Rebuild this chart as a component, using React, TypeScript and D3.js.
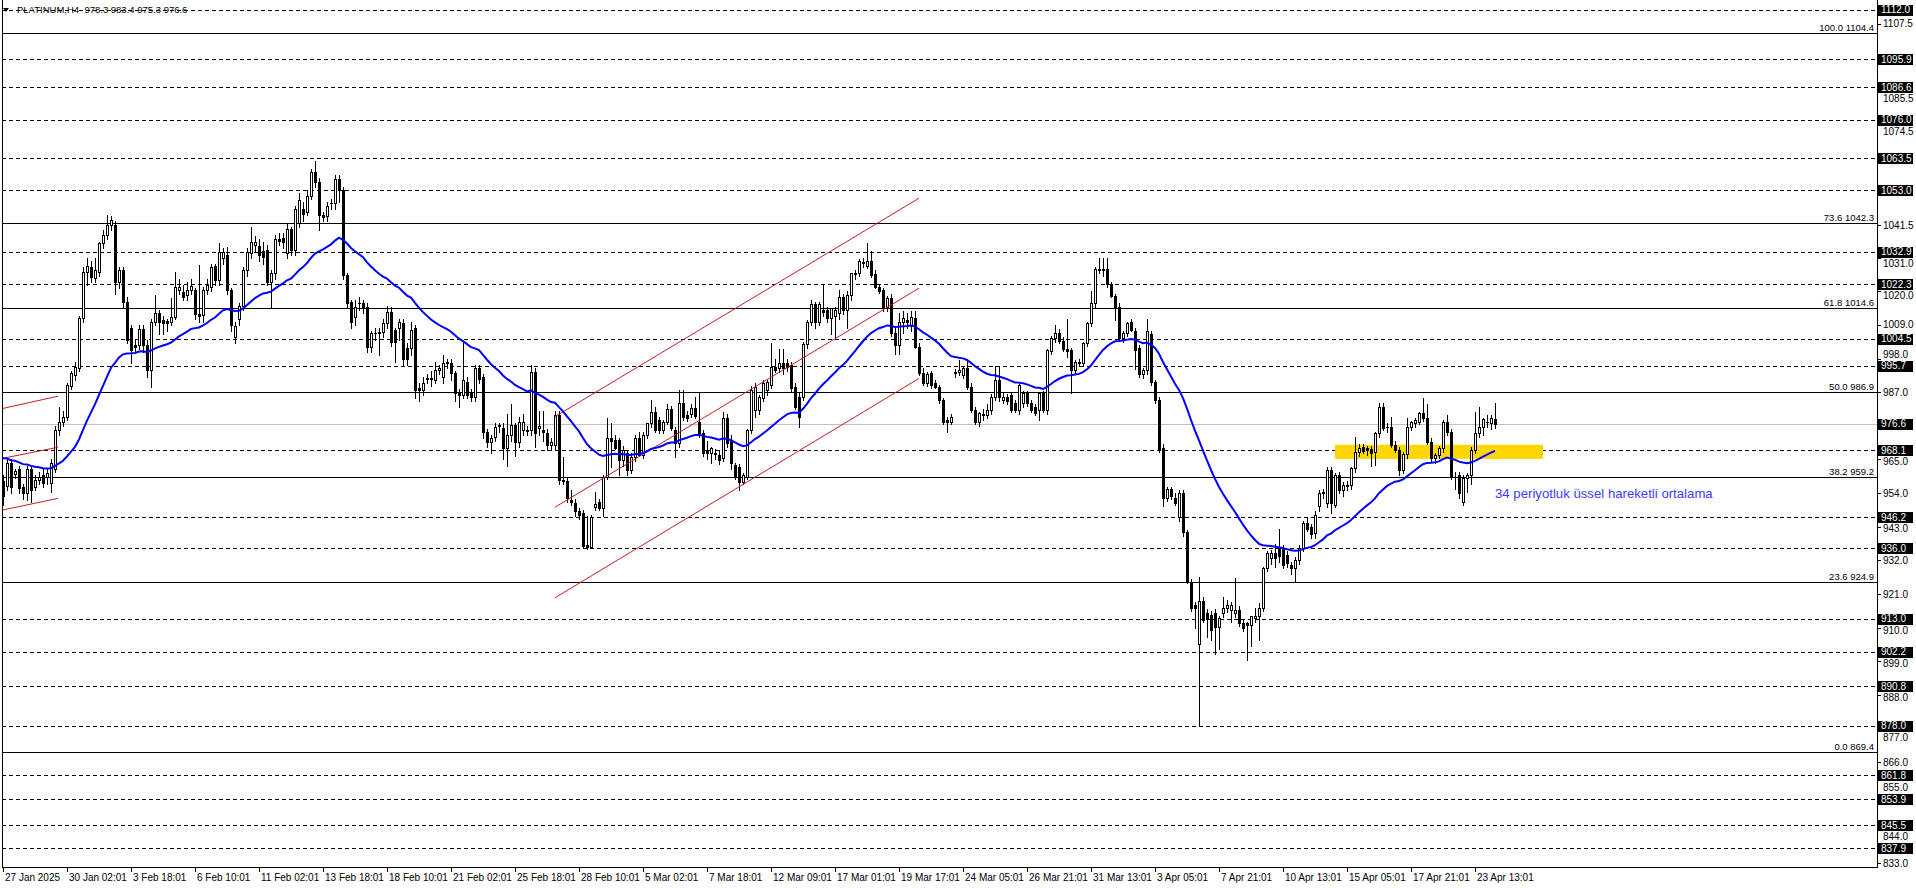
import React from "react";
import * as d3 from "d3";

// ---------- DATA ----------
const headerText = "PLATINUM,H4  978.3 983.4 975.3 976.6";

const timeLabels = [
  "27 Jan 2025", "30 Jan 02:01", "3 Feb 18:01", "6 Feb 10:01", "11 Feb 02:01", "13 Feb 18:01",
  "18 Feb 10:01", "21 Feb 02:01", "25 Feb 18:01", "28 Feb 10:01", "5 Mar 02:01", "7 Mar 18:01",
  "12 Mar 09:01", "17 Mar 01:01", "19 Mar 17:01", "24 Mar 05:01", "26 Mar 21:01", "31 Mar 13:01",
  "3 Apr 05:01", "7 Apr 21:01", "10 Apr 13:01", "15 Apr 05:01", "17 Apr 21:01", "23 Apr 13:01",
];
const barsPerTimeLabel = 16;

const priceTicks = [
  1107.5, 1096.5, 1085.5, 1074.5, 1063.5, 1052.5, 1041.5, 1031.0, 1020.0, 1009.0, 998.0, 987.0,
  976.0, 965.0, 954.0, 943.0, 932.0, 921.0, 910.0, 899.0, 888.0, 877.0, 866.0, 855.0, 844.0, 833.0,
];

const dashedLevels = [
  1112.0, 1095.9, 1086.6, 1076.0, 1063.5, 1053.0, 1032.9, 1022.3, 1004.5, 995.7, 968.1, 946.2,
  936.0, 913.0, 902.2, 890.8, 878.0, 861.8, 853.9, 845.5, 837.9,
];
const currentPrice = 976.6;

const fiboRatios = ["100.0", "73.6", "61.8", "50.0", "38.2", "23.6", "0.0"];
const fiboPrices = [1104.4, 1042.3, 1014.6, 986.9, 959.2, 924.9, 869.4];

// [bar0, price0, bar1, price1]
const leftChannel = [
  [0, 981.7, 13.8, 985.7],
  [0, 965.4, 13.8, 969.0],
  [0, 948.5, 13.8, 952.3],
];
const mainChannel = [
  [138, 979.0, 229, 1050.4],
  [138, 949.4, 229, 1021.0],
  [138, 919.8, 229, 991.5],
];

const zoneBars = [333, 385];
const zonePrices = [969.8, 965.2];

const emaPeriod = 34;
const emaSeed = 965.4;
const emaLabel = "34 periyotluk üssel hareketli ortalama";
const emaLabelAnchor = [373, 952.4];

// OHLC candles [open, high, low, close]
const candlesJanFeb: number[][] = [
  [958, 960, 950, 953], [956.2, 965, 955, 963.7], [964, 965, 954, 956], [960.1, 962, 959, 961.2],
  [962, 963, 954, 955.6], [956, 957, 952, 954], [954, 963, 951.8, 962], [962, 963, 951, 955],
  [956, 960, 955, 958.3], [958.3, 961, 957, 959.4], [960, 962, 956, 957.2], [959.4, 962, 957, 960.5],
  [957.2, 965, 954.5, 963.7], [962, 976, 961, 974.6], [974.6, 982, 973, 977.4], [977.3, 981, 976, 979],
  [979, 990, 978, 989.3], [989, 994, 988, 993.2], [992.6, 997, 991, 995.3], [994.8, 1012, 994, 1011.1],
  [1011.1, 1028, 1010, 1026.4], [1026.4, 1030.8, 1022, 1028.2], [1028, 1030, 1023, 1024.8], [1024.2, 1031, 1023, 1026.9],
  [1026.4, 1036, 1025, 1035.6], [1035.6, 1040, 1034, 1038.4], [1038.4, 1044.9, 1037, 1041.6], [1041.6, 1044.5, 1040, 1043.3],
  [1041.6, 1043, 1019, 1023.1], [1023.1, 1028, 1021, 1026.9], [1026.9, 1028, 1015, 1016.6], [1016.6, 1018, 1003, 1004.1],
  [1007.9, 1009, 996.6, 1000.8], [1002.4, 1004, 1000, 1001.9], [1002.4, 1009, 1001, 1007.6], [1007.6, 1009, 1000, 1002.4],
  [1002.4, 1004, 992, 994.3], [994.3, 1011, 988.8, 1010], [1010, 1018.8, 1009, 1012.8], [1012.8, 1014, 1006, 1010],
  [1010.6, 1012, 1006, 1009.5], [1010.2, 1011, 1007, 1009.7], [1010, 1017.7, 1009, 1011.7], [1011.7, 1026.4, 1011, 1021.5],
  [1020.4, 1024, 1019, 1021.5], [1019.8, 1022, 1017, 1018.2], [1018.8, 1023, 1017, 1020.4], [1020.4, 1024, 1019, 1021.8],
  [1020.4, 1021, 1011, 1012.6], [1012.6, 1028.6, 1010, 1011.9], [1012.2, 1021.5, 1010, 1020.4], [1020.4, 1024, 1019, 1022],
  [1021.5, 1029, 1020, 1028], [1028.2, 1029, 1022, 1023.7], [1023.7, 1035.6, 1022, 1032.7], [1030.7, 1034, 1029, 1032.7],
  [1031.8, 1034.5, 1019, 1020.4], [1020.4, 1021, 1007, 1009], [1005, 1010, 1003, 1008.5], [1010.9, 1016, 1009, 1015.3],
  [1015.3, 1028, 1014, 1026.9], [1026.9, 1034, 1025, 1032.9], [1032.4, 1040.9, 1031, 1036.2], [1035.1, 1038, 1033, 1036],
  [1034.8, 1037, 1030, 1031.8], [1033, 1036, 1029, 1031.3], [1033.5, 1035, 1022, 1023.1], [1023.1, 1027, 1015, 1025.8],
  [1025.8, 1038.5, 1024, 1037.1], [1037, 1039, 1035, 1036.4], [1037.3, 1039, 1034, 1036.2], [1032.4, 1042, 1031, 1040.2],
  [1040.2, 1041, 1032, 1033.5], [1033.5, 1048, 1032, 1046.8], [1042.2, 1052, 1041, 1049.8], [1046.8, 1049, 1043, 1045.2],
  [1046, 1053, 1045, 1051.1], [1051.1, 1060, 1050, 1058.9], [1058.9, 1062.7, 1054, 1055.8], [1055.8, 1057, 1040, 1044.9],
  [1044.9, 1046, 1043, 1044.4], [1044.6, 1049, 1043, 1047.9], [1048.7, 1050, 1047, 1048.9], [1048.9, 1058, 1047, 1056.6],
  [1056.6, 1058, 1049, 1053.1], [1053.1, 1054, 1024, 1025.3], [1025.3, 1026, 1015, 1016], [1016.6, 1017, 1008, 1010],
  [1011.7, 1017, 1009, 1015], [1016, 1018, 1014, 1016.1], [1016.3, 1017, 1013, 1015], [1015, 1016, 1000, 1001.9],
  [1001.9, 1007, 1000, 1006.2], [1006.5, 1008, 1004, 1006.2], [1006.4, 1008, 999, 1006.6], [1006.6, 1011, 1005, 1009.5],
  [1009.5, 1015.3, 1008, 1013.3], [1013.3, 1015, 1002, 1003.5], [1007.3, 1008, 997, 1003.5], [1007.9, 1011, 1004, 1010],
  [1009.5, 1011, 996, 998], [1001.3, 1003, 996, 998], [1001.3, 1010, 999, 1007.3], [1007.9, 1009, 985, 987.7],
  [988.3, 990, 984, 987.7], [987.7, 992, 986, 989.9], [991.2, 993, 990, 991.6], [991.6, 994, 989, 991.2],
  [991, 997, 990, 994.3], [994.3, 996, 993, 994.8], [991.8, 999, 990, 996.4], [996.6, 998, 995, 996.8],
  [996.6, 998, 991, 993.2], [993.2, 994, 984, 986.6], [986.6, 988, 982, 986.1], [986.1, 1003.5, 985, 991],
  [990.4, 992, 985, 986.1], [986.6, 988, 984, 985.5], [985.5, 996, 984, 994.8], [995, 996, 990, 991.2],
  [992, 993, 972, 974], [974, 975, 969, 970.8], [970.8, 973, 967, 971.9], [972.5, 977, 971, 975.7],
  [975.9, 977, 974, 976.3], [975.2, 977, 965, 968.6], [968.6, 980, 963, 973], [973, 983, 971, 976.3],
  [976.3, 977, 966, 970.8], [970.8, 979, 969, 977.4], [974.6, 980, 973, 977.4], [974.6, 976, 973, 974.2],
  [974.6, 996, 973, 993.5], [993.5, 995, 969, 973.5], [975.4, 981, 973, 975.9], [974.6, 981, 971, 974.1],
  [973.8, 975, 968, 969.7], [969.7, 972, 968, 970.8], [969.7, 981, 968, 979.5], [979.5, 981, 957, 958.3],
  [958.3, 965.8, 957, 958.0], [958, 959, 951, 952.3], [951.8, 955, 950, 951.2], [950.7, 952, 946.5, 948.1],
];

const candlesMar: number[][] = [
  [948.1, 949, 945.5, 947.0], [947.4, 948.5, 936.0, 936.8], [937.0, 946.5, 935.8, 936.5], [936.5, 947, 936, 946.3],
  [949.5, 954.5, 948.5, 950.5], [951.0, 952, 948.5, 949.0], [949.0, 960, 946.5, 959.4], [959.4, 978.5, 958.5, 971.9],
  [971.9, 976.8, 962.7, 971.0], [971.4, 973, 968.5, 968.7], [971.4, 972, 960, 964.8], [964.8, 969.5, 963, 968.2],
  [967, 968, 960, 961.6], [961.6, 967, 960.5, 965.9], [965.9, 973, 964.5, 971.9], [971.9, 974, 966, 966.5],
  [966.5, 974, 965.5, 973.0], [973.0, 977, 972, 976.8], [976.8, 984.5, 975.5, 980.6], [980.6, 982, 974, 974.6],
  [978, 979, 973.5, 974.6], [974.6, 978, 973.5, 977.4], [977.4, 983, 976.5, 981.4], [981.4, 982.5, 974.5, 975.2],
  [974.6, 975.5, 965.9, 970.3], [970.3, 987.7, 969, 983.6], [983.6, 987.7, 978, 979.0], [979.5, 981, 977.5, 978.5],
  [980.0, 983, 979, 981.7], [981.7, 985.5, 978.5, 979.2], [977.4, 986.6, 972.5, 973.6], [973.6, 974.5, 966, 967.0],
  [968.1, 971, 965, 967.0], [967.0, 969, 964, 968.6], [967.0, 968.5, 965, 966.7], [966.5, 968, 963.5, 964.8],
  [965.4, 980.5, 964.5, 978.4], [978.4, 980, 969, 970.3], [971.4, 973, 962, 963.8], [963.2, 964, 958.5, 959.4],
  [962.7, 963.5, 955, 957.7], [957.7, 960.5, 957, 959.9], [959.4, 975, 958.5, 974.6], [974.6, 989, 973.5, 987.7],
  [981.2, 990, 979, 988.8], [981.2, 986, 980, 985.5], [985.0, 991, 984, 990.1], [987.7, 991, 986, 990.4],
  [989.4, 1003, 988.5, 995.3], [995.3, 998, 993.5, 994.3], [994.8, 1001, 993.5, 996.4], [996.4, 1001, 993, 994.8],
  [996.4, 998, 994, 995.3], [995.8, 997, 987.5, 988.3], [988.8, 990, 981.5, 982.3], [985.5, 987, 975.7, 979.0],
  [985.5, 1003.5, 984.5, 1002.9], [1002.9, 1010.5, 1001.5, 1010.1], [1010.1, 1017.1, 1009, 1015.8], [1015.8, 1016.5, 1008, 1010.1],
  [1010.1, 1016.5, 1009, 1015.8], [1013.9, 1022, 1012, 1013.3], [1013.9, 1015, 1010, 1011.2], [1011.2, 1014.5, 1006, 1014.4],
  [1012.0, 1015, 1005, 1013.9], [1012.8, 1020.5, 1011, 1018.2], [1018.2, 1019, 1012.5, 1013.9], [1013.9, 1020, 1008, 1018.8],
  [1018.8, 1025.9, 1017, 1025.9], [1025.9, 1027, 1024, 1025.6], [1025.9, 1030.5, 1025, 1030.0], [1029.7, 1031, 1028, 1029.3],
  [1028.2, 1035.7, 1027.5, 1030.0], [1030.0, 1033, 1024.5, 1025.3], [1025.6, 1027, 1021, 1021.3], [1021.3, 1022, 1019.5, 1020.2],
  [1020.4, 1021, 1013.5, 1014.4], [1015, 1018.5, 1013.5, 1017.7], [1017.7, 1019, 1005.5, 1006.2], [1006.2, 1008, 999.5, 1002.4],
  [1002.4, 1013, 999.5, 1010.0], [1010.0, 1013.5, 1006.5, 1011.2], [1010.6, 1013, 1008, 1010.0], [1008.5, 1013.5, 1007, 1011.7],
  [1011.1, 1013.5, 1001.5, 1001.9], [1001.9, 1003, 992.5, 993.2], [993.4, 995, 989.5, 989.9], [990.1, 993.5, 989, 993.0],
  [993.2, 994, 988.5, 989.4], [989.9, 991, 988.5, 988.8], [988.8, 989.5, 983.5, 984.5], [984.5, 985, 976.5, 977.4],
  [977.9, 979, 974.1, 977.4], [977.4, 980, 976.5, 978.8], [993.2, 994.5, 992, 993.7], [993.7, 997.5, 992.5, 994.3],
  [992.6, 995.5, 991.5, 994.8], [994.8, 998, 988, 988.8], [988.8, 990, 980.5, 981.2], [981.2, 982, 976.5, 977.4],
  [977.4, 980.5, 976, 980.1], [979.8, 981.5, 978, 979.5], [979.5, 983, 978.5, 981.2], [981.2, 986.5, 980, 985.5],
  [985.5, 995.5, 984.5, 990.9], [990.9, 995.5, 984, 985.5], [984.5, 987, 983.5, 985.5], [985.5, 986.5, 983, 984.0],
  [986.0, 987, 980.5, 981.2], [983.4, 984.5, 980.5, 981.2], [981.2, 990, 980, 989.4], [983.4, 987.5, 982, 986.6],
  [986.6, 987.5, 982.5, 983.4], [983.4, 984.5, 980.5, 981.2], [982.3, 983, 979.5, 980.1], [981.2, 987, 977.9, 986.6],
  [986.6, 987.5, 980.5, 981.2], [981.2, 1001, 980, 1000.8],
];

const candlesApr: number[][] = [
  [1000.3, 1005.5, 999.5, 1004.8], [1004.8, 1008.8, 1003.5, 1006.5], [1006.5, 1007.5, 1003, 1003.7], [1003.7, 1005, 1000.5, 1001.2],
  [1001.2, 1011.0, 998.5, 1000.3], [1000.9, 1001.5, 986.8, 994.1], [994.1, 997.5, 993, 996.9], [996.9, 998, 995.5, 996.4],
  [996.4, 1003.5, 995.5, 1003.1], [1003.1, 1010, 1002, 1009.5], [1009.5, 1020.0, 1008.5, 1016.1], [1016.1, 1028, 1015, 1027.3],
  [1027.3, 1030.7, 1026, 1026.9], [1026.9, 1030.7, 1025, 1027.3], [1027.3, 1030.7, 1021.5, 1022.2], [1022.2, 1023, 1018, 1018.3],
  [1018.3, 1019, 1010.5, 1014.9], [1014.9, 1016, 1004, 1004.8], [1004.8, 1007, 1003.5, 1006.5], [1006.5, 1010, 1005.5, 1009.5],
  [1009.9, 1011, 1007, 1007.3], [1007.1, 1008, 994.7, 1000.9], [1001.4, 1002.5, 992, 993.0], [993.0, 995, 991.5, 994.1],
  [994.1, 1011.0, 993, 1007.1], [1006, 1007, 989.5, 990.2], [990.2, 991, 983.5, 984.6], [984.6, 985.5, 967.5, 968.3],
  [968.8, 970, 949.7, 952.5], [952.5, 956, 951.5, 955.3], [955.3, 956, 952, 953.1], [952.5, 954, 950, 950.8],
  [946.3, 955, 945, 954.2], [954.2, 955, 940, 941.2], [941.2, 942, 924.5, 924.9], [924.9, 926, 915.5, 916.5],
  [917.6, 918.5, 910, 916.5], [904.7, 926.6, 877.9, 918.7], [918.7, 920, 912, 912.6], [914.8, 916, 907, 913.1],
  [914.3, 915.5, 906, 909.2], [914.8, 916, 901.3, 910.3], [910.3, 914, 903, 913.1], [914.8, 920, 913.5, 916.5],
  [916.5, 919, 915, 917.6], [915.9, 918.5, 912, 917.6], [914.8, 926.1, 913.5, 915.9], [915.9, 917, 910.5, 911.4],
  [911.4, 912.5, 909, 909.8], [911.4, 912, 899.6, 910.9], [910.9, 914, 904, 913.7], [913.1, 916.5, 912, 913.7],
  [913.7, 918, 906, 916.5], [916.5, 930, 915.5, 929.4], [929.4, 935, 928.5, 934.5], [932.8, 935.5, 931, 934.5],
  [934.5, 937.5, 930, 932.8], [936.2, 942.4, 931.5, 933.4], [935.6, 937, 929.5, 930.6], [933.9, 935, 930, 931.1],
  [930.6, 931.5, 927.5, 929.4], [929.4, 933, 924.9, 932.2], [932.2, 937, 931, 936.2], [936.0, 945, 935, 944.2],
  [944.2, 946, 941.5, 942.4], [942.9, 944, 939.5, 940.7], [940.9, 948, 939.5, 946.9], [949.7, 955, 948, 953.9],
  [953.9, 955.5, 952.5, 954.4], [950.7, 962.5, 949.5, 961.6], [961.6, 962.5, 947.5, 950.7], [950.1, 960.5, 949.5, 959.9],
  [959.9, 961, 954, 955.0], [955.0, 957.5, 953, 956.7], [956.3, 958, 955, 956.7], [956.7, 962.5, 955.5, 962.1],
  [962.1, 972.5, 961, 967.6], [967.6, 970, 966, 968.7], [969.0, 970, 967, 967.9], [968.7, 969.5, 966.5, 968.1],
  [968.4, 969.5, 963, 967.2], [967.6, 974, 963.2, 973.6], [973.6, 983.4, 972.5, 982.3], [982.3, 983.5, 974.5, 975.2],
  [975.7, 977, 974, 975.5], [975.7, 979, 969, 969.7], [969.7, 971, 967.5, 968.1], [968.1, 969, 960, 961.6],
  [961.6, 967.5, 960.5, 966.8], [966.8, 978.5, 965.5, 975.7], [975.7, 977.5, 974.5, 977.4], [976.8, 978.5, 975.5, 977.9],
  [977.4, 980.5, 976.5, 980.1], [980.1, 985.0, 977.5, 978.5], [978.5, 983, 970, 970.8], [970.8, 972, 964.5, 965.4],
  [965.4, 967, 964, 966.5], [966.5, 969.5, 965.5, 968.7], [968.7, 978, 967.5, 977.4], [977.4, 979.5, 973, 974.1],
  [974.1, 975, 958.5, 959.4], [959.4, 961, 955.5, 959.2], [959.9, 961, 952.5, 953.9], [951.2, 960, 950.1, 958.9],
  [958.9, 960.5, 954.5, 959.9], [959.9, 969, 957, 968.1], [968.1, 980.6, 967, 973.6], [973.6, 982.3, 972.5, 975.7],
  [975.7, 978.5, 973, 978.1], [977.4, 979.5, 975.5, 977.4], [976.8, 979.5, 975, 978.5], [978.3, 983.4, 975.3, 976.6],
];

const candles = [...candlesJanFeb, ...candlesMar, ...candlesApr];

// ---------- LAYOUT ----------
const W = 1916;
const H = 888;
const plotLeft = 2;
const plotRight = 1877;
const plotTop = 0;
const plotBottom = 867;
const FONT = "'Liberation Sans', Arial, sans-serif";
const BOX_H = 11;

const yScale = d3.scaleLinear().domain([831.8, 1114.86]).range([867, 1]);
const xScale = d3.scaleLinear().domain([0, 373]).range([3, 1495]);

function computeEma(closes: number[], period: number, seed: number) {
  const k = 2 / (period + 1);
  const out: number[] = [];
  let prev = seed;
  closes.forEach((c, i) => {
    prev = i === 0 ? seed : prev + k * (c - prev);
    out.push(prev);
  });
  return out;
}

// place plain axis labels so that they do not sit under the black boxes
function placeTicks(ticks: number[], boxed: number[]) {
  const boxYs = boxed.map((p) => yScale(p));
  const res: { p: number; y: number }[] = [];
  ticks.forEach((p) => {
    let y = yScale(p);
    let hidden = false;
    boxYs.forEach((by) => {
      const d = y - by;
      if (Math.abs(d) < 2.5) hidden = true;
      else if (Math.abs(d) < 11.5) y = by + Math.sign(d) * 11.5;
    });
    if (!hidden) res.push({ p, y });
  });
  return res;
}

export default function App() {
  const closes = candles.map((c) => c[3]);
  const ema = computeEma(closes, emaPeriod, emaSeed);
  const emaPath = d3
    .line<number>()
    .x((_, i) => xScale(i))
    .y((d) => yScale(d))(ema) as string;

  const py = (p: number) => Math.round(yScale(p)) + 0.5;
  const boxedLevels = [...dashedLevels, currentPrice];
  const tickPlacement = placeTicks(priceTicks, boxedLevels);

  return (
    <svg
      width={W}
      height={H}
      style={{ position: "absolute", left: 0, top: 0, background: "#fff", display: "block" }}
      fontFamily={FONT}
    >
      <defs>
        <clipPath id="plot">
          <rect x={plotLeft} y={plotTop} width={plotRight - plotLeft} height={plotBottom - plotTop} />
        </clipPath>
      </defs>
      <rect x={0} y={0} width={W} height={H} fill="#fff" />

      <g clipPath="url(#plot)">
        {fiboPrices.map((p, i) => (
          <line key={"f" + i} x1={plotLeft} x2={plotRight} y1={py(p)} y2={py(p)} stroke="#000" strokeWidth={1} />
        ))}
        {dashedLevels.map((p, i) => (
          <line key={"d" + i} x1={plotLeft} x2={plotRight} y1={py(p)} y2={py(p)} stroke="#000" strokeWidth={1} strokeDasharray="4,3" />
        ))}
        <line x1={plotLeft} x2={plotRight} y1={py(currentPrice)} y2={py(currentPrice)} stroke="#c0c0c0" strokeWidth={1} />

        <rect
          x={xScale(zoneBars[0])}
          y={yScale(zonePrices[0])}
          width={xScale(zoneBars[1]) - xScale(zoneBars[0])}
          height={yScale(zonePrices[1]) - yScale(zonePrices[0])}
          fill="#ffd700"
        />

        {candles.map((c, i) => {
          const [o, h, l, cl] = c;
          const cx = Math.round(xScale(i));
          const yo = Math.round(yScale(o));
          const yc = Math.round(yScale(cl));
          const yh = Math.round(yScale(h));
          const yl = Math.round(yScale(l));
          const bull = cl > o;
          const top = Math.min(yo, yc);
          const bot = Math.max(yo, yc);
          return (
            <g key={"c" + i}>
              <line x1={cx + 0.5} x2={cx + 0.5} y1={yh} y2={yl + 1} stroke="#000" strokeWidth={1} />
              {bot - top < 1 ? (
                <rect x={cx - 1} y={top} width={3} height={1} fill="#000" />
              ) : bull ? (
                <rect x={cx - 0.5} y={top + 0.5} width={2} height={bot - top} fill="#fff" stroke="#000" strokeWidth={1} />
              ) : (
                <rect x={cx - 1} y={top} width={3} height={bot - top + 1} fill="#000" />
              )}
            </g>
          );
        })}

        {[...leftChannel, ...mainChannel].map((ln, i) => (
          <line
            key={"ch" + i}
            x1={xScale(ln[0])}
            y1={yScale(ln[1])}
            x2={xScale(ln[2])}
            y2={yScale(ln[3])}
            stroke="#c81e1e"
            strokeWidth={1}
          />
        ))}

        <path d={emaPath} fill="none" stroke="#0000ff" strokeWidth={2} />

        <text x={xScale(emaLabelAnchor[0])} y={yScale(emaLabelAnchor[1])} fontSize={13.2} fill="#3c3cff">
          {emaLabel}
        </text>

        {fiboPrices.map((p, i) => (
          <text key={"fl" + i} x={plotRight - 3} y={py(p) - 3} fontSize={9.5} textAnchor="end" fill="#000">
            {fiboRatios[i] + " " + p.toFixed(1)}
          </text>
        ))}

        <path d="M3,8 L9,8 L6,12 Z" fill="#000" />
        <text x={17} y={13} fontSize={9.5} fill="#000" style={{ whiteSpace: "pre" }}>
          {headerText}
        </text>
      </g>

      <line x1={plotLeft + 0.5} x2={plotLeft + 0.5} y1={0} y2={plotBottom} stroke="#000" />
      <line x1={plotRight + 0.5} x2={plotRight + 0.5} y1={0} y2={plotBottom + 1} stroke="#000" />
      <line x1={plotLeft} x2={plotRight + 1} y1={plotBottom + 0.5} y2={plotBottom + 0.5} stroke="#000" />

      {priceTicks.map((p, i) => (
        <line key={"tm" + i} x1={plotRight} x2={plotRight + 4} y1={py(p)} y2={py(p)} stroke="#000" />
      ))}
      {tickPlacement.map((t, i) => (
        <text key={"t" + i} x={plotRight + 6} y={t.y + 3.5} fontSize={10} fill="#000">
          {t.p.toFixed(1)}
        </text>
      ))}
      {boxedLevels.map((p, i) => (
        <g key={"b" + i}>
          <rect x={plotRight + 1} y={Math.round(yScale(p)) - 5} width={35} height={BOX_H} fill="#000" />
          <text x={plotRight + 4} y={yScale(p) + 3.5} fontSize={10} fill="#fff">
            {p.toFixed(1)}
          </text>
        </g>
      ))}

      {timeLabels.map((t, i) => {
        const x = Math.round(xScale(i * barsPerTimeLabel));
        return (
          <g key={"x" + i}>
            <line x1={x + 0.5} x2={x + 0.5} y1={plotBottom} y2={plotBottom + 5} stroke="#000" />
            <text x={x + 2} y={plotBottom + 14} fontSize={10} fill="#000">
              {t}
            </text>
          </g>
        );
      })}
    </svg>
  );
}
